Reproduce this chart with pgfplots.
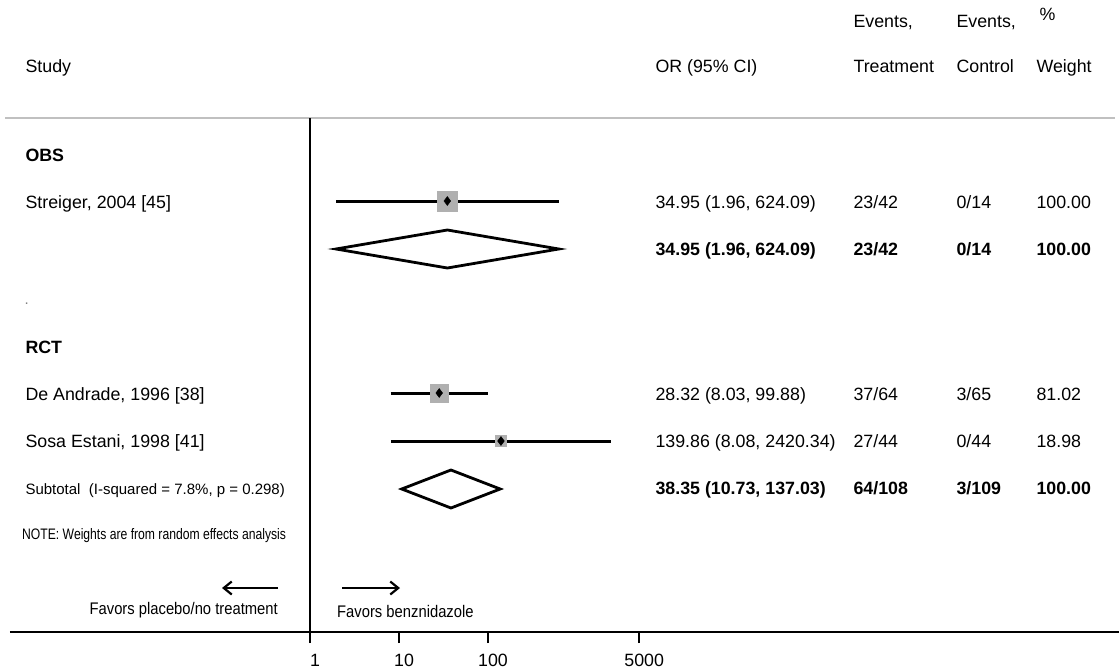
\documentclass[border=0pt]{standalone}
\usepackage{fontspec}
\setmainfont{Liberation Sans}
\newfontfamily\condensed{Liberation Sans}[FakeStretch=0.88]
\newfontfamily\condensedb{Liberation Sans}[FakeStretch=0.8]
\usepackage{pgfplots}
\pgfplotsset{compat=1.18}
\usetikzlibrary{arrows.meta}
\definecolor{sqgray}{RGB}{176,176,176}
\definecolor{linegray}{RGB}{192,192,192}
\newcommand\ms{\fontsize{17.8}{21}\selectfont}
\newcommand\smf{\fontsize{15}{18}\selectfont}
\begin{document}
\begin{tikzpicture}
\path[use as bounding box] (0,0) rectangle (1119pt,-669pt);
\draw[linegray, line width=2pt] (5pt,-118pt) -- (1115pt,-118pt);
\begin{axis}[
  at={(10pt,-632pt)}, anchor=south west,
  scale only axis, width=1109pt, height=632pt,
  xmode=log, xmin=4.257e-4, xmax=1.2303e9,
  ymin=0, ymax=632,
  axis x line*=bottom, axis y line=none,
  x axis line style={line width=2.4pt},
  xtick={1,10,100,5000}, xticklabels={1,10,100,5000},
  xminorticks=false,
  tick align=outside, major tick length=11pt,
  every tick/.style={black, line width=2.2pt},
  xticklabel style={font=\ms, yshift=-8pt, xshift=5pt},
  clip=false,
]
% null line
\addplot[black, line width=2.4pt] coordinates {(1,0) (1,514)};
% Streiger 2004
\addplot[black, line width=3pt] coordinates {(1.96,431) (624.09,431)};
\addplot[only marks, mark=square*, mark size=10pt, color=sqgray] coordinates {(34.95,431)};
\addplot[only marks, mark=diamond*, mark size=4.5pt, black] coordinates {(34.95,431)};
% OBS pooled
\addplot[black, line width=2.8pt, fill=white] coordinates {(1.96,383) (34.95,402) (624.09,383) (34.95,364)} -- cycle;
% De Andrade 1996
\addplot[black, line width=3pt] coordinates {(8.03,239) (99.88,239)};
\addplot[only marks, mark=square*, mark size=9pt, color=sqgray] coordinates {(28.32,239)};
\addplot[only marks, mark=diamond*, mark size=4.5pt, black] coordinates {(28.32,239)};
% Sosa Estani 1998
\addplot[black, line width=3pt] coordinates {(8.08,191) (2420.34,191)};
\addplot[only marks, mark=square*, mark size=5.5pt, color=sqgray] coordinates {(139.86,191)};
\addplot[only marks, mark=diamond*, mark size=4.5pt, black] coordinates {(139.86,191)};
% RCT subtotal
\addplot[black, line width=2.8pt, fill=white] coordinates {(10.73,143) (38.35,162) (137.03,143) (38.35,124)} -- cycle;
\end{axis}
% headers
\node[anchor=base west, font=\ms] at (1036pt,-21pt) {\%};
\node[anchor=base west, font=\ms] at (850pt,-28pt) {Events,};
\node[anchor=base west, font=\ms] at (953pt,-28pt) {Events,};
\node[anchor=base west, font=\ms] at (22pt,-73pt) {Study};
\node[anchor=base west, font=\ms] at (652pt,-73pt) {OR (95\% CI)};
\node[anchor=base west, font=\ms] at (850pt,-73pt) {Treatment};
\node[anchor=base west, font=\ms] at (953pt,-73pt) {Control};
\node[anchor=base west, font=\ms] at (1033pt,-73pt) {Weight};
% rows
\node[anchor=base west, font=\ms\bfseries] at (22pt,-161pt) {OBS};
\node[anchor=base west, font=\ms] at (22pt,-208pt) {Streiger, 2004 [45]};
\node[anchor=base west, font=\ms] at (652pt,-208pt) {34.95 (1.96, 624.09)};
\node[anchor=base west, font=\ms] at (850pt,-208pt) {23/42};
\node[anchor=base west, font=\ms] at (953pt,-208pt) {0/14};
\node[anchor=base west, font=\ms] at (1033pt,-208pt) {100.00};
\node[anchor=base west, font=\ms\bfseries] at (652pt,-255pt) {34.95 (1.96, 624.09)};
\node[anchor=base west, font=\ms\bfseries] at (850pt,-255pt) {23/42};
\node[anchor=base west, font=\ms\bfseries] at (953pt,-255pt) {0/14};
\node[anchor=base west, font=\ms\bfseries] at (1033pt,-255pt) {100.00};
\node[anchor=base west, font=\smf, text=gray] at (21pt,-304pt) {.};
\node[anchor=base west, font=\ms\bfseries] at (22pt,-353pt) {RCT};
\node[anchor=base west, font=\ms] at (22pt,-400pt) {De Andrade, 1996 [38]};
\node[anchor=base west, font=\ms] at (652pt,-400pt) {28.32 (8.03, 99.88)};
\node[anchor=base west, font=\ms] at (850pt,-400pt) {37/64};
\node[anchor=base west, font=\ms] at (953pt,-400pt) {3/65};
\node[anchor=base west, font=\ms] at (1033pt,-400pt) {81.02};
\node[anchor=base west, font=\ms] at (22pt,-447pt) {Sosa Estani, 1998 [41]};
\node[anchor=base west, font=\ms] at (652pt,-447pt) {139.86 (8.08, 2420.34)};
\node[anchor=base west, font=\ms] at (850pt,-447pt) {27/44};
\node[anchor=base west, font=\ms] at (953pt,-447pt) {0/44};
\node[anchor=base west, font=\ms] at (1033pt,-447pt) {18.98};
\node[anchor=base west, font=\smf] at (22pt,-494pt) {Subtotal\ \ (I-squared = 7.8\%, p = 0.298)};
\node[anchor=base west, font=\ms\bfseries] at (652pt,-494pt) {38.35 (10.73, 137.03)};
\node[anchor=base west, font=\ms\bfseries] at (850pt,-494pt) {64/108};
\node[anchor=base west, font=\ms\bfseries] at (953pt,-494pt) {3/109};
\node[anchor=base west, font=\ms\bfseries] at (1033pt,-494pt) {100.00};
\node[anchor=base west, inner xsep=0pt, font=\condensedb\fontsize{15.2}{18}\selectfont] at (22pt,-539pt) {NOTE: Weights are from random effects analysis};
% favours
\draw[line width=1.4pt, -{Straight Barb[length=8pt, width=13pt, line width=2.2pt]}] (278pt,-588pt) -- (222pt,-588pt);
\draw[line width=1.4pt, -{Straight Barb[length=8pt, width=13pt, line width=2.2pt]}] (342pt,-588pt) -- (400pt,-588pt);
\node[anchor=base east, inner xsep=0pt, font=\condensed\fontsize{16.8}{19}\selectfont] at (278pt,-614pt) {Favors placebo/no treatment};
\node[anchor=base west, inner xsep=0pt, font=\condensed\fontsize{16.8}{19}\selectfont] at (337pt,-617pt) {Favors benznidazole};
\end{tikzpicture}
\end{document}
